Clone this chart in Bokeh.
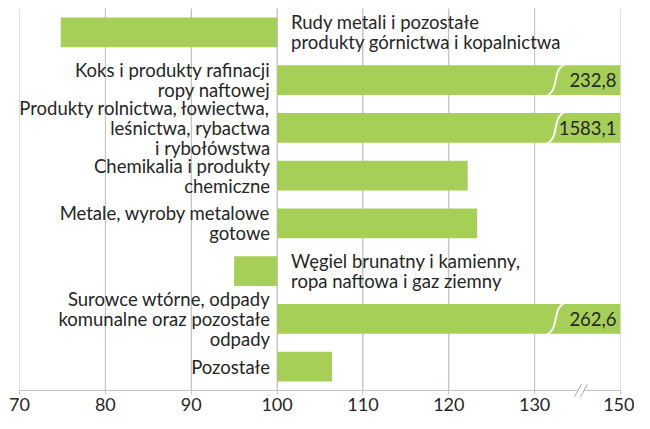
from bokeh.plotting import figure
from bokeh.models import Range1d, FixedTicker, ColumnDataSource, Span
from bokeh.core.properties import value
from bokeh.embed import file_html
from bokeh.resources import INLINE

categories = [
    "Rudy metali i pozostałe\nprodukty górnictwa i kopalnictwa",
    "Koks i produkty rafinacji\nropy naftowej",
    "Produkty rolnictwa, łowiectwa,\nleśnictwa, rybactwa\ni rybołówstwa",
    "Chemikalia i produkty\nchemiczne",
    "Metale, wyroby metalowe\ngotowe",
    "Węgiel brunatny i kamienny,\nropa naftowa i gaz ziemny",
    "Surowce wtórne, odpady\nkomunalne oraz pozostałe\nodpady",
    "Pozostałe",
]
values = [74.8, 232.8, 1583.1, 122.2, 123.3, 95.0, 262.6, 106.4]
value_labels = ["", "232,8", "1583,1", "", "", "", "262,6", ""]
tick_values = [70, 80, 90, 100, 110, 120, 130, 140]
tick_labels = ["70", "80", "90", "100", "110", "120", "130", "150"]
base = 100
axis_cap = 140
break_at = 135.4

FONT = "Lato"
TXT = "#262626"
GREEN = "#a6cf58"
GRID = "#c4c4c4"

n = len(categories)
ypos = [n - 1 - i for i in range(n)]
right = [min(v, axis_cap) for v in values]
y_lo = -0.5

p = figure(width=634, height=413, output_backend="svg", toolbar_location=None,
           x_range=Range1d(70, 140), y_range=Range1d(y_lo, n - 0.5),
           min_border_left=19, min_border_right=14, min_border_top=8, min_border_bottom=0)
p.outline_line_color = None
p.yaxis.visible = False
p.ygrid.visible = False
ticker = FixedTicker(ticks=tick_values)
p.xaxis.ticker = ticker
p.xgrid.ticker = ticker
p.xgrid.grid_line_color = GRID
p.xgrid.grid_line_width = 1
for t in tick_values:
    p.add_layout(Span(location=t, dimension="height", line_color=GRID, line_width=1,
                      level="underlay"))
p.xaxis.major_label_overrides = {t: l for t, l in zip(tick_values, tick_labels)}
p.xaxis.axis_line_color = GRID
p.xaxis.major_tick_line_color = GRID
p.xaxis.major_tick_out = 4
p.xaxis.major_tick_in = 0
p.xaxis.minor_tick_line_color = None
p.xaxis.major_label_text_font = FONT
p.xaxis.major_label_text_font_size = "18px"
p.xaxis.major_label_text_color = TXT
p.xaxis.major_label_standoff = 3

src = ColumnDataSource(dict(y=ypos, left=[min(base, r) for r in right],
                            right=[max(base, r) for r in right]))
p.hbar(y="y", left="left", right="right", height=0.62, source=src,
       fill_color=GREEN, line_color=None)

# category labels
pos = [i for i in range(n) if values[i] >= base]
neg = [i for i in range(n) if values[i] < base]
p.text(x=[base] * len(pos), y=[ypos[i] for i in pos], text=[categories[i] for i in pos],
       text_align="right", text_baseline="middle", x_offset=-7,
       text_font=value(FONT), text_font_size="18.5px", text_color=TXT, text_line_height=0.9)
p.text(x=[base] * len(neg), y=[ypos[i] for i in neg], text=[categories[i] for i in neg],
       text_align="left", text_baseline="middle", x_offset=14,
       text_font=value(FONT), text_font_size="18.5px", text_color=TXT, text_line_height=0.9)

# truncated bars: break marks + value labels
tr = [i for i in range(n) if values[i] > axis_cap]
for i in tr:
    y = ypos[i]
    p.bezier(x0=[131.3], y0=[y - 0.34], x1=[133.6], y1=[y + 0.34],
             cx0=[133.0], cy0=[y - 0.22], cx1=[131.9], cy1=[y + 0.22],
             line_color="white", line_width=2)
p.text(x=[axis_cap] * len(tr), y=[ypos[i] for i in tr], text=[value_labels[i] for i in tr],
       text_align="right", text_baseline="middle", x_offset=-4,
       text_font=value(FONT), text_font_size="18.5px", text_color=TXT)

# axis break marker (two slanted strokes with a gap over the axis line)
d = 0.13
p.patch(x=[break_at - 0.75, break_at - 0.05, break_at + 0.75, break_at + 0.05],
        y=[y_lo - d, y_lo + d, y_lo + d, y_lo - d], fill_color="white", line_color=None,
        level="overlay")
p.segment(x0=[break_at - 0.75, break_at - 0.05], y0=[y_lo - d, y_lo - d],
          x1=[break_at + 0.05, break_at + 0.75], y1=[y_lo + d, y_lo + d],
          line_color="#a6a6a6", line_width=1, level="overlay")

open("out.html", "w").write(file_html(p, INLINE))
